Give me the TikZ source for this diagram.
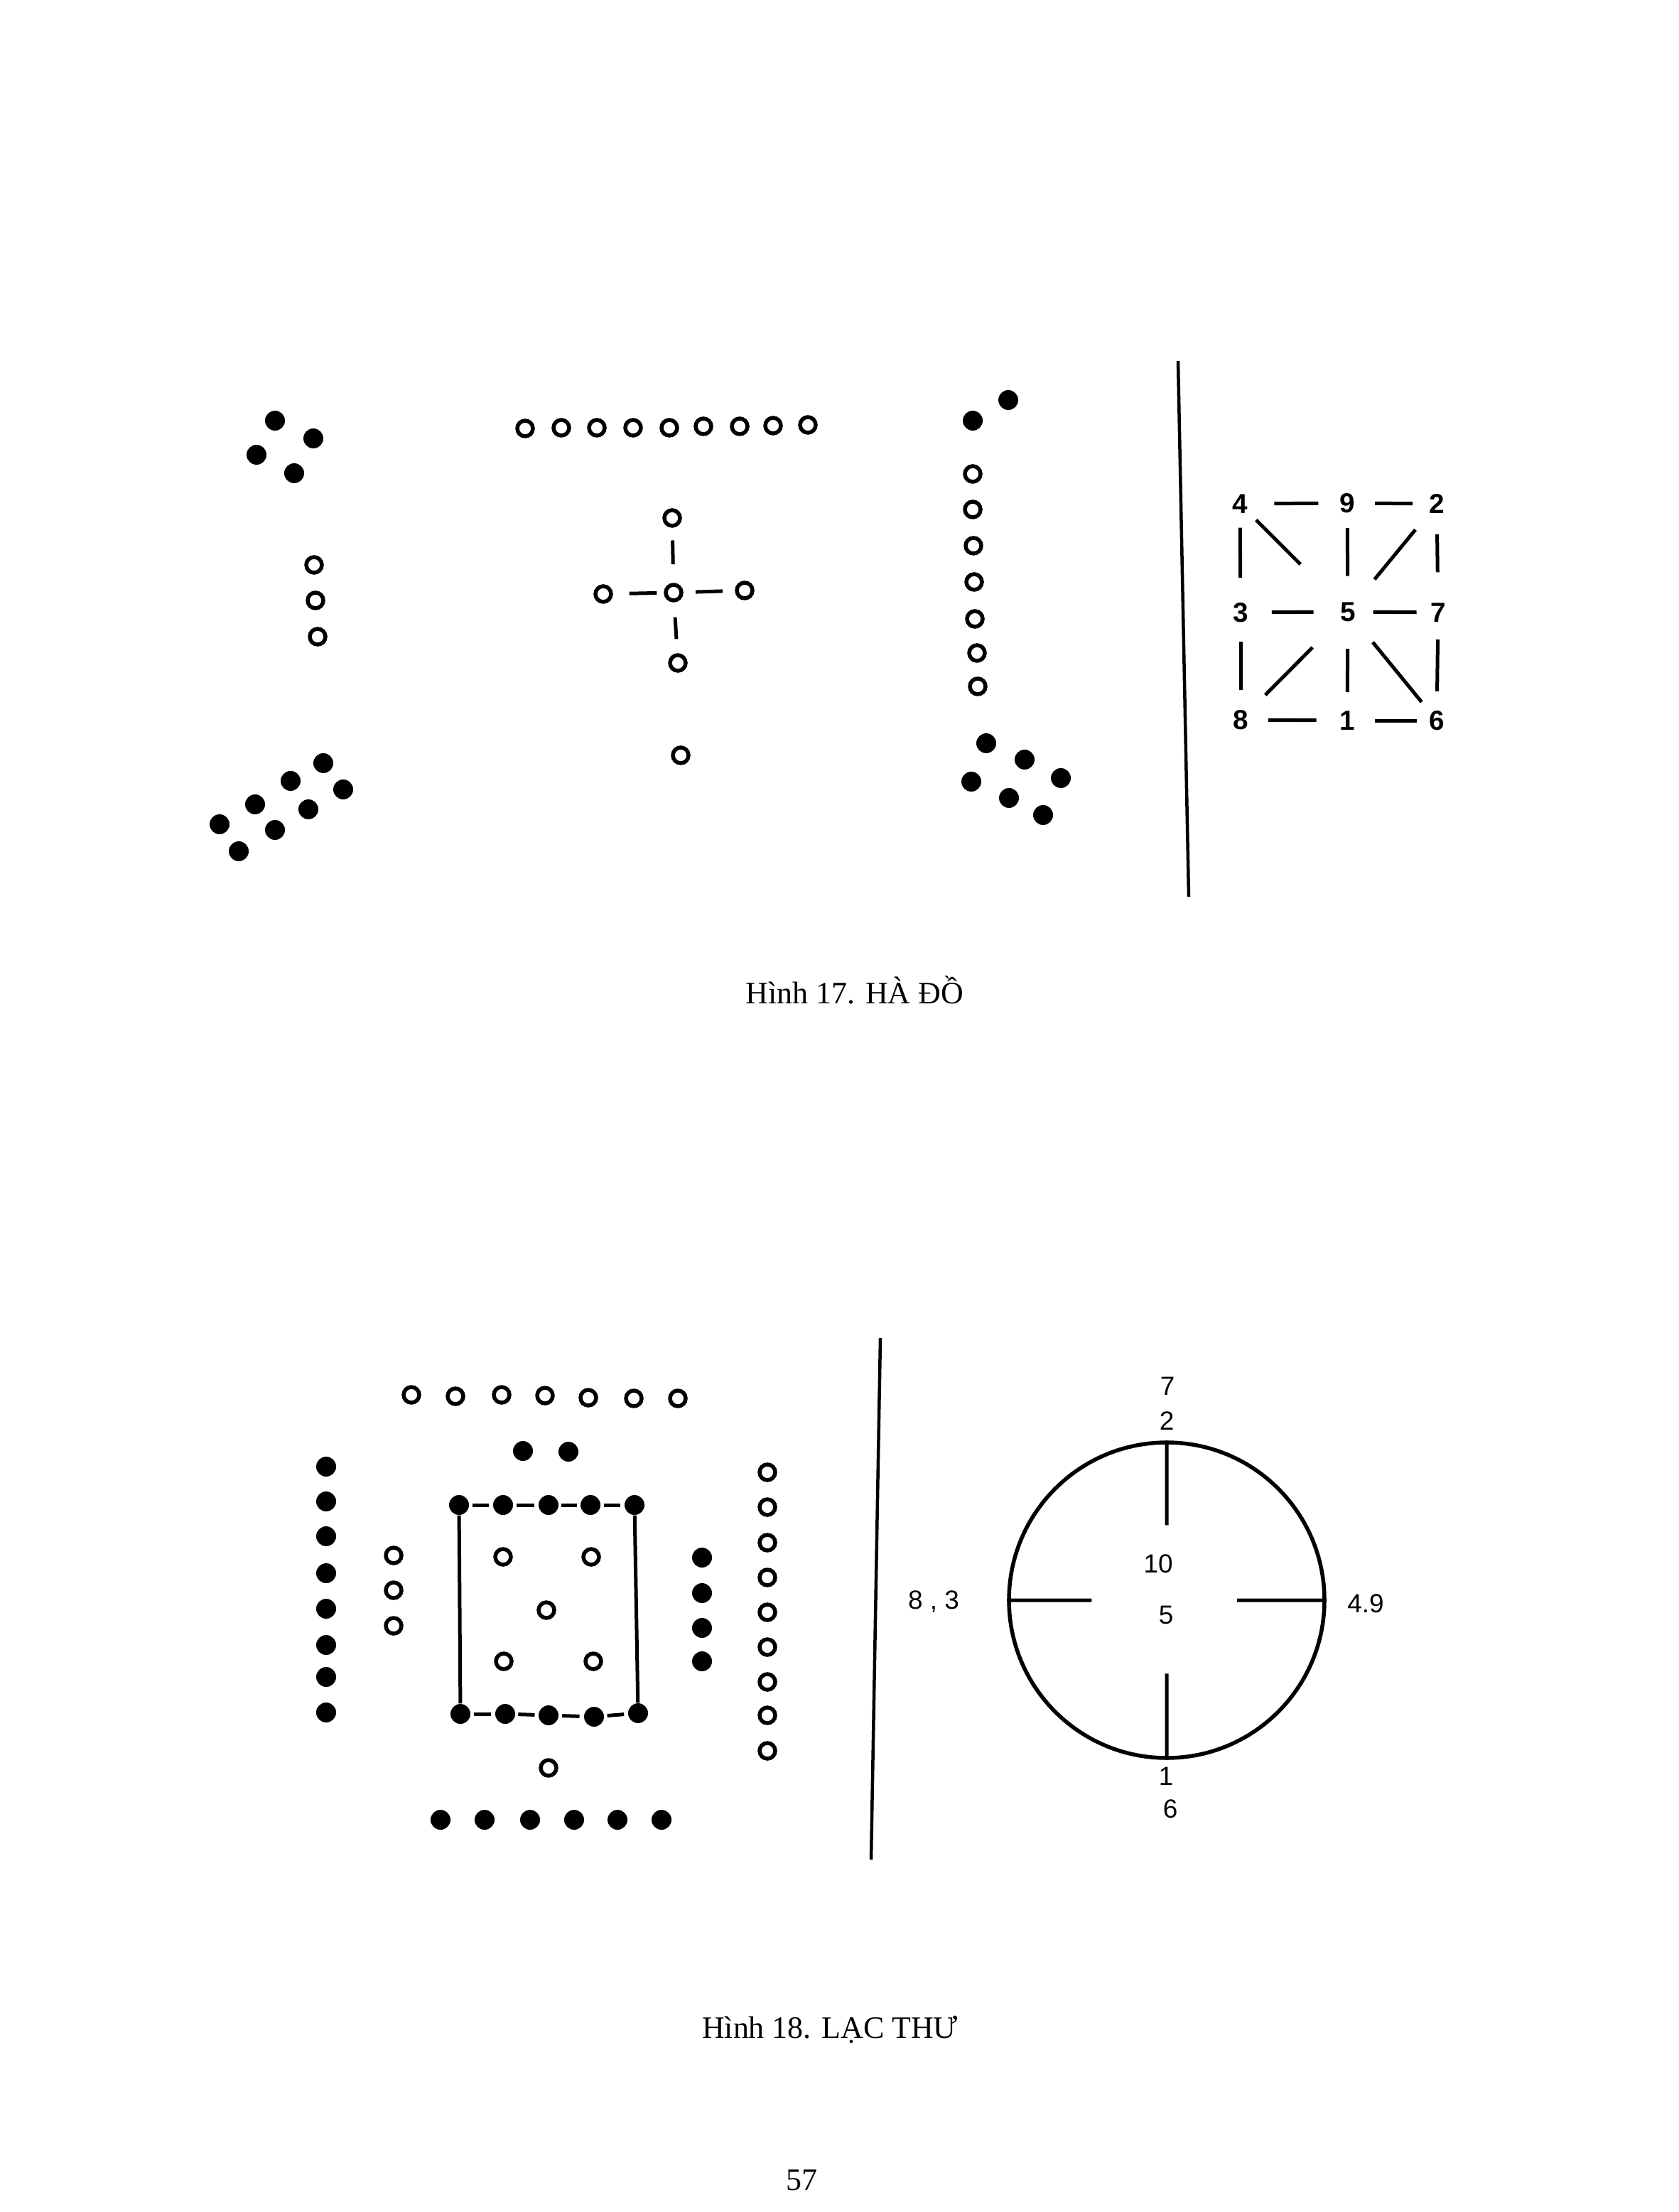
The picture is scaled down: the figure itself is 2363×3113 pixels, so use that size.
\documentclass[tikz,border=0pt]{standalone}
\usepackage{fontspec}
\setmainfont{Liberation Serif}
\newfontfamily\numfont{Liberation Sans}
\usetikzlibrary{calc}

\begin{document}
\begin{tikzpicture}[x=0.1mm,y=-0.1mm,
  blackdot/.style={circle,fill,inner sep=0pt,minimum size=2.8mm},
  whitedot/.style={circle,draw,line width=0.55mm,inner sep=0pt,minimum size=2.2mm},
  bar/.style={line width=0.5mm},
  gridnum/.style={font=\numfont\bfseries\fontsize{11}{13}\selectfont,inner sep=0pt},
  ringnum/.style={font=\numfont\fontsize{10.5}{12}\selectfont,inner sep=0pt},
  figcap/.style={font=\fontsize{12.5}{15}\selectfont,inner sep=0pt,anchor=base}]
\fill[white] (0,0) rectangle (2363,3113);
\useasboundingbox (0,0) rectangle (2363,3113);

% Ha Do
\foreach \x/\y [count=\i] in {387/592,441/617,361/640,414/666} \node[blackdot] (nw\i) at (\x,\y) {};
\foreach \x/\y [count=\i] in {442/795,444/845,447/896} \node[whitedot] (w\i) at (\x,\y) {};
\foreach \x/\y [count=\i] in {455/1074,409/1099,483/1111,359/1132,434/1139,309/1160,387/1168,336/1198} \node[blackdot] (sw\i) at (\x,\y) {};
\foreach \x/\y [count=\i] in {739/603,790/602,840/602,891/602,942/602,990/600,1041/600,1088/599,1137/598} \node[whitedot] (n\i) at (\x,\y) {};
\node[whitedot] (ctop) at (946,729) {};
\node[whitedot] (cmid) at (948,834) {};
\node[whitedot] (cleft) at (849,836) {};
\node[whitedot] (cright) at (1048,831) {};
\node[whitedot] (cbot) at (954,933) {};
\node[whitedot] (s1) at (958,1063) {};
\draw[bar] ($(ctop)!.30!(cmid)$) -- ($(ctop)!.62!(cmid)$);
\draw[bar] ($(cleft)!.37!(cmid)$) -- ($(cleft)!.76!(cmid)$);
\draw[bar] ($(cmid)!.31!(cright)$) -- ($(cmid)!.69!(cright)$);
\draw[bar] ($(cmid)!.35!(cbot)$) -- ($(cmid)!.66!(cbot)$);
\foreach \x/\y [count=\i] in {1419/563,1369/592} \node[blackdot] (ne\i) at (\x,\y) {};
\foreach \x/\y [count=\i] in {1369/667,1369/717,1370/768,1371/819,1372/871,1375/919,1376/966} \node[whitedot] (e\i) at (\x,\y) {};
\foreach \x/\y [count=\i] in {1388/1046,1442/1069,1367/1100,1493/1095,1420/1123,1468/1147} \node[blackdot] (se\i) at (\x,\y) {};
\draw[line width=0.45mm] (1658,508) -- (1673,1262);

\node[gridnum] (g4) at (1745,709) {4};
\node[gridnum] (g9) at (1896,708) {9};
\node[gridnum] (g2) at (2022,709) {2};
\node[gridnum] (g3) at (1746,862) {3};
\node[gridnum] (g5) at (1897,861) {5};
\node[gridnum] (g7) at (2024,862) {7};
\node[gridnum] (g8) at (1746,1013) {8};
\node[gridnum] (g1) at (1896,1014) {1};
\node[gridnum] (g6) at (2022,1014) {6};
\draw[bar] ($(g4)!.32!(g9)$) -- ($(g4)!.73!(g9)$);
\draw[bar] ($(g9)!.31!(g2)$) -- ($(g9)!.73!(g2)$);
\draw[bar] ($(g3)!.29!(g5)$) -- ($(g3)!.68!(g5)$);
\draw[bar] ($(g5)!.28!(g7)$) -- ($(g5)!.76!(g7)$);
\draw[bar] ($(g8)!.26!(g1)$) -- ($(g8)!.71!(g1)$);
\draw[bar] ($(g1)!.31!(g6)$) -- ($(g1)!.78!(g6)$);
\draw[bar] ($(g4)!.22!(g3)$) -- ($(g4)!.68!(g3)$);
\draw[bar] ($(g9)!.23!(g5)$) -- ($(g9)!.67!(g5)$);
\draw[bar] ($(g2)!.28!(g7)$) -- ($(g2)!.63!(g7)$);
\draw[bar] ($(g3)!.27!(g8)$) -- ($(g3)!.72!(g8)$);
\draw[bar] ($(g5)!.34!(g1)$) -- ($(g5)!.74!(g1)$);
\draw[bar] ($(g7)!.25!(g6)$) -- ($(g7)!.73!(g6)$);
\draw[bar] ($(g4)!.15!(g5)$) -- ($(g4)!.56!(g5)$);
\draw[bar] ($(g2)!.24!(g5)$) -- ($(g2)!.70!(g5)$);
\draw[bar] ($(g5)!.33!(g8)$) -- ($(g5)!.77!(g8)$);
\draw[bar] ($(g5)!.28!(g6)$) -- ($(g5)!.83!(g6)$);
\node[figcap] (cap17) at (1203,1412) {Hình 17. HÀ ĐỒ};

% Lac Thu
\foreach \x/\y [count=\i] in {579/1963,641/1965,706/1963,767/1964,828/1967,892/1968,954/1968} \node[whitedot] (ln\i) at (\x,\y) {};
\foreach \x/\y [count=\i] in {736/2042,800/2043} \node[blackdot] (lp\i) at (\x,\y) {};
\foreach \y [count=\i] in {2064,2113,2162,2214,2264,2315,2360,2410} \node[blackdot] (lw\i) at (459,\y) {};
\foreach \y [count=\i] in {2189,2238,2288} \node[whitedot] (lv\i) at (554,\y) {};
\foreach \x [count=\i] in {646,708,772,831,893} \node[blackdot] (t\i) at (\x,2118) {};
\foreach \x/\y [count=\i] in {648/2412,711/2412,772/2414,836/2416,898/2411} \node[blackdot] (b\i) at (\x,\y) {};
\draw[bar] (t1) -- (b1);
\draw[bar] (t5) -- (b5);
\foreach \a/\b in {1/2,2/3,3/4,4/5} {
  \draw[bar] ($(t\a)!.3!(t\b)$) -- ($(t\a)!.68!(t\b)$);
  \draw[bar] ($(b\a)!.3!(b\b)$) -- ($(b\a)!.68!(b\b)$);
}
\foreach \x/\y [count=\i] in {708/2191,832/2191,769/2266,709/2338,835/2338} \node[whitedot] (in\i) at (\x,\y) {};
\node[whitedot] (ls1) at (772,2488) {};
\foreach \x [count=\i] in {620,682,746,808,869,931} \node[blackdot] (ls\i) at (\x,2561) {};
\foreach \y [count=\i] in {2192,2242,2291,2338} \node[blackdot] (le\i) at (988,\y) {};
\foreach \y [count=\i] in {2072,2121,2171,2220,2269,2318,2367,2414,2464} \node[whitedot] (lo\i) at (1080,\y) {};
\draw[line width=0.45mm] (1239,1883) -- (1226,2617);

\node[draw,circle,line width=0.55mm,inner sep=0pt,minimum size=44.4mm] (ring) at (1642,2252) {};
\draw[line width=0.5mm] (ring.north) -- ($(ring.north)!.53!(ring.center)$);
\draw[line width=0.5mm] (ring.south) -- ($(ring.south)!.54!(ring.center)$);
\draw[line width=0.5mm] (ring.west) -- ($(ring.west)!.53!(ring.center)$);
\draw[line width=0.5mm] (ring.east) -- ($(ring.east)!.56!(ring.center)$);
\node[ringnum] (r7) at (1643,1951) {7};
\node[ringnum] (r2) at (1642,2000) {2};
\node[ringnum] (r10) at (1630,2201) {10};
\node[ringnum] (r5) at (1641,2273) {5};
\node[ringnum] (r83) at (1314,2254) {8 , 3};
\node[ringnum] (r49) at (1922,2257) {4.9};
\node[ringnum] (r1) at (1641,2500) {1};
\node[ringnum] (r6) at (1647,2546) {6};
\node[figcap] (cap18) at (1168,2868) {Hình 18. LẠC THƯ};
\node[figcap] (page) at (1128,3082) {57};
\end{tikzpicture}
\end{document}
